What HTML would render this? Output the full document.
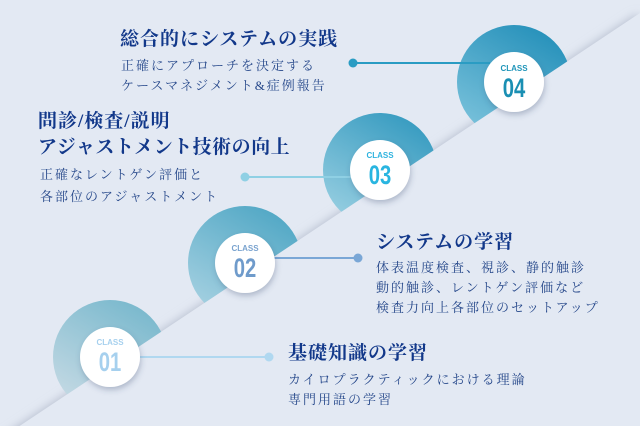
<!DOCTYPE html>
<html><head><meta charset="utf-8"><style>
html,body{margin:0;padding:0}
body{width:640px;height:426px;overflow:hidden;background:#e3e9f3;position:relative;font-family:"Liberation Serif","Noto Serif CJK SC","Noto Serif CJK JP",serif}
svg{position:absolute;left:0;top:0}
.t{position:absolute;color:#12388a;font-weight:bold;font-size:19px;line-height:26px;white-space:nowrap;letter-spacing:1px}
.b{position:absolute;color:#25478a;font-size:13px;line-height:20px;white-space:nowrap;letter-spacing:2px}
</style></head><body>
<svg width="640" height="426" viewBox="0 0 640 426">
<defs>
<clipPath id="above"><polygon points="0,439 640,13 640,0 0,0"/></clipPath>
<filter id="bl" x="-10%" y="-50%" width="120%" height="200%"><feGaussianBlur stdDeviation="5"/></filter>
<filter id="sh" x="-50%" y="-50%" width="200%" height="200%"><feDropShadow dx="1" dy="3" stdDeviation="3" flood-color="#3a4a70" flood-opacity="0.3"/></filter>
<linearGradient id="g1" x1="0.8" y1="0" x2="0.2" y2="1"><stop offset="0" stop-color="#76b7cc"/><stop offset="1" stop-color="#c8dbe5"/></linearGradient>
<linearGradient id="g2" x1="0.8" y1="0" x2="0.2" y2="1"><stop offset="0" stop-color="#4ea6c4"/><stop offset="1" stop-color="#a8d2e2"/></linearGradient>
<linearGradient id="g3" x1="0.8" y1="0" x2="0.2" y2="1"><stop offset="0" stop-color="#3399bf"/><stop offset="1" stop-color="#9ad0e2"/></linearGradient>
<linearGradient id="g4" x1="0.8" y1="0" x2="0.2" y2="1"><stop offset="0" stop-color="#238fb9"/><stop offset="1" stop-color="#7cc3dc"/></linearGradient>
</defs>
<g clip-path="url(#above)">
<line x1="0" y1="445" x2="640" y2="19" stroke="#aeb6c8" stroke-width="10" filter="url(#bl)"/>
<circle cx="110" cy="357" r="57" fill="url(#g1)"/>
<circle cx="245" cy="263" r="57" fill="url(#g2)"/>
<circle cx="380" cy="170" r="57" fill="url(#g3)"/>
<circle cx="514" cy="82" r="57" fill="url(#g4)"/>
</g>
<line x1="353" y1="63" x2="490" y2="63" stroke="#2a9cc3" stroke-width="2"/><circle cx="353" cy="63" r="4.5" fill="#2a9cc3"/>
<line x1="245" y1="177" x2="355" y2="177" stroke="#8fd0e4" stroke-width="2"/><circle cx="245" cy="177" r="4.5" fill="#8fd0e4"/>
<line x1="265" y1="258" x2="358" y2="258" stroke="#7aa7d6" stroke-width="2"/><circle cx="358" cy="258" r="4.5" fill="#7aa7d6"/>
<line x1="130" y1="357" x2="269" y2="357" stroke="#b0d8f0" stroke-width="2"/><circle cx="269" cy="357" r="4.5" fill="#b0d8f0"/>
<g font-family="Liberation Sans, sans-serif" font-weight="bold" text-anchor="middle">
<circle cx="110" cy="357" r="30" fill="#fff" filter="url(#sh)"/>
<text x="110" y="345" font-size="8" fill="#a6d0ee">CLASS</text>
<text x="110" y="371" font-size="27" fill="#a6d0ee" transform="translate(110 371) scale(0.75 1) translate(-110 -371)">01</text>
<circle cx="245" cy="263" r="30" fill="#fff" filter="url(#sh)"/>
<text x="245" y="251" font-size="8" fill="#7aa3cf">CLASS</text>
<text x="245" y="277" font-size="27" fill="#6f9bcb" transform="translate(245 277) scale(0.75 1) translate(-245 -277)">02</text>
<circle cx="380" cy="170" r="30" fill="#fff" filter="url(#sh)"/>
<text x="380" y="158" font-size="8" fill="#2fb3df">CLASS</text>
<text x="380" y="184" font-size="27" fill="#29b5e0" transform="translate(380 184) scale(0.75 1) translate(-380 -184)">03</text>
<circle cx="514" cy="82" r="30" fill="#fff" filter="url(#sh)"/>
<text x="514" y="71" font-size="8" fill="#1f95b9">CLASS</text>
<text x="514" y="97" font-size="27" fill="#1a8fb3" transform="translate(514 97) scale(0.75 1) translate(-514 -97)">04</text>
</g>
</svg>
<div class="t" style="left:120px;top:27px">総合的にシステムの実践</div>
<div class="b" style="left:121px;top:56px">正確にアプローチを決定する<br>ケースマネジメント&amp;症例報告</div>
<div class="t" style="left:38px;top:109px">問診/検査/説明<br><span style="letter-spacing:0.5px">アジャストメント技術の向上</span></div>
<div class="b" style="left:40px;top:164px;letter-spacing:2px;line-height:22px">正確なレントゲン評価と<br>各部位のアジャストメント</div>
<div class="t" style="left:376px;top:230px">システムの学習</div>
<div class="b" style="left:376px;top:258px">体表温度検査、視診、静的触診<br>動的触診、レントゲン評価など<br>検査力向上各部位のセットアップ</div>
<div class="t" style="left:288px;top:341px">基礎知識の学習</div>
<div class="b" style="left:288px;top:370px">カイロプラクティックにおける理論<br>専門用語の学習</div>
</body></html>
